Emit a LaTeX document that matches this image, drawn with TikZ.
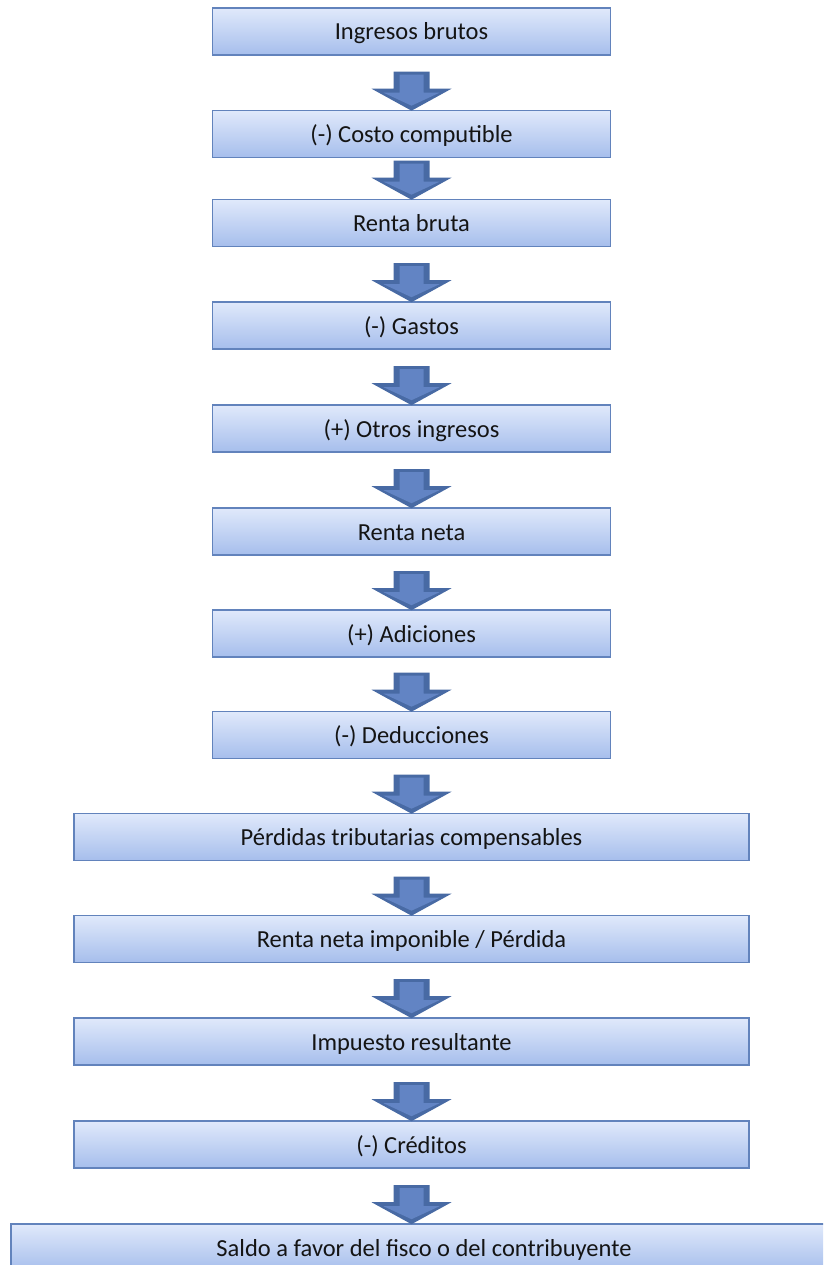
\documentclass[tikz,border=0pt]{standalone}
\usepackage{fontspec}
\setmainfont{Carlito}
\usetikzlibrary{shadings}
\definecolor{boxtop}{RGB}{224,233,251}
\definecolor{boxbot}{RGB}{166,190,236}
\definecolor{boxline}{RGB}{98,131,188}
\definecolor{arrowout}{RGB}{72,106,164}
\definecolor{arrowin}{RGB}{98,132,196}
\definecolor{txt}{RGB}{20,20,20}
\tikzset{
  flowbox/.style={rectangle, draw=boxline, line width=1.6pt, top color=boxtop, bottom color=boxbot,
    minimum height=47pt, inner sep=0pt, text height=20pt, text depth=3pt, text=txt,
    font=\fontsize{24.5}{29}\selectfont},
  narrowbox/.style={flowbox, minimum width=398pt},
  widebox/.style={flowbox, minimum width=675pt},
  blockarrow/.pic={
    \fill[arrowout] (-18,-39) -- (18,-39) -- (18,-22) -- (40,-22) -- (0,0) -- (-40,-22) -- (-18,-22) -- cycle;
    \fill[arrowin] (-12,-36) -- (12,-36) -- (12,-18) -- (28,-18) -- (0,-5) -- (-28,-18) -- (-12,-18) -- cycle;
  }
}
\begin{document}
\begin{tikzpicture}[x=1pt,y=-1pt]
\useasboundingbox (0,0) rectangle (823,1265);
\clip (0,0) rectangle (823,1265);
\fill[white] (0,0) rectangle (823,1265);
\node[narrowbox] (n1) at (411.5,31.5) {Ingresos brutos};
\node[narrowbox] (n2) at (411.5,134) {(-) Costo computible};
\node[narrowbox] (n3) at (411.5,223) {Renta bruta};
\node[narrowbox] (n4) at (411.5,325.5) {(-) Gastos};
\node[narrowbox] (n5) at (411.5,428.5) {(+) Otros ingresos};
\node[narrowbox] (n6) at (411.5,531.5) {Renta neta};
\node[narrowbox] (n7) at (411.5,633.5) {(+) Adiciones};
\node[narrowbox] (n8) at (411.5,735) {(-) Deducciones};
\node[widebox] (n9) at (411.5,837) {Pérdidas tributarias compensables};
\node[widebox] (n10) at (411.5,939) {Renta neta imponible / Pérdida};
\node[widebox] (n11) at (411.5,1041.5) {Impuesto resultante};
\node[widebox] (n12) at (411.5,1144.5) {(-) Créditos};
\node[flowbox, minimum width=826pt] (n13) at (424,1247.5) {Saldo a favor del fisco o del contribuyente};
\foreach \b in {2,...,13} {
  \pic at ([yshift=-1pt]n\b.north -| n1.south) {blockarrow};
}
\end{tikzpicture}
\end{document}
